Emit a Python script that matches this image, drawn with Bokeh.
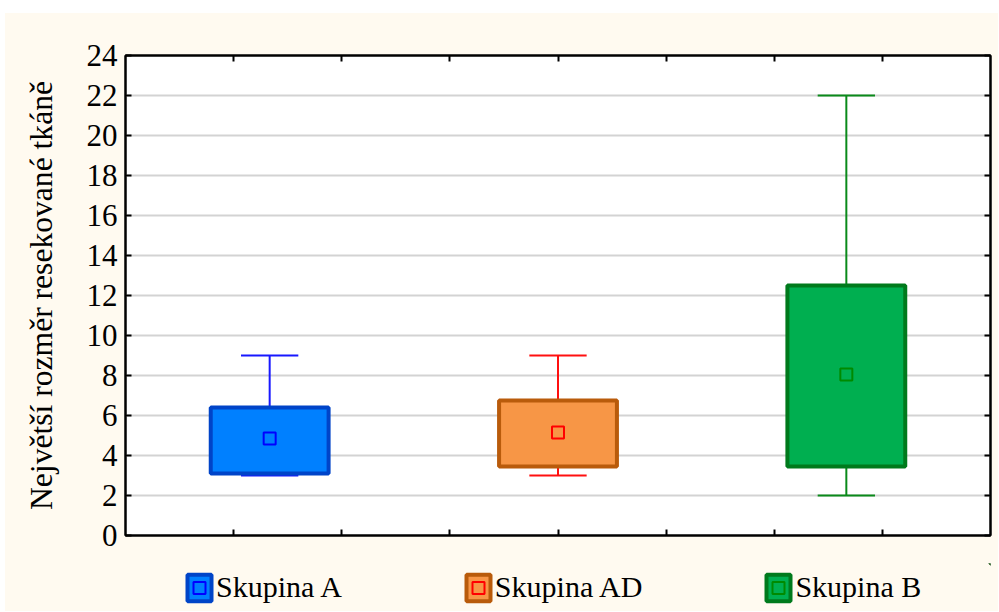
from bokeh.plotting import figure
from bokeh.layouts import column
from bokeh.models import Range1d, FixedTicker, LinearAxis, Legend, LegendItem, ColumnDataSource
from bokeh.embed import file_html
from bokeh.resources import INLINE

# ---- data ----
groups = ["Skupina A", "Skupina AD", "Skupina B"]
q1 = [3.1, 3.45, 3.45]
q3 = [6.4, 6.75, 12.5]
mid = [4.85, 5.15, 8.05]
lo = [3.0, 3.0, 2.0]
hi = [9.0, 9.0, 22.0]
y_ticks = [0, 2, 4, 6, 8, 10, 12, 14, 16, 18, 20, 22, 24]
x_ticks = [1, 2, 3, 4, 5, 6, 7]

# ---- styles ----
fill_colors = ["#0080FF", "#F79646", "#00AF50"]
edge_colors = ["#0044C8", "#B95B0B", "#007A1C"]
whisker_colors = ["#1818FF", "#FF1010", "#0A8A1A"]
marker_colors = ["#0000FF", "#FF0000", "#008A00"]
CREAM = "#FFFAF0"

X_MAX = 8.0
n = len(groups)
slot = X_MAX / n
centers = [(i + 0.5) * slot for i in range(n)]
BOX_W = 1.09
CAP_HALF = 0.265

src = ColumnDataSource(dict(
    x=centers, q1=q1, q3=q3, mid=mid, lo=lo, hi=hi,
    cap_l=[c - CAP_HALF for c in centers], cap_r=[c + CAP_HALF for c in centers],
    fill=fill_colors, edge=edge_colors, wcol=whisker_colors, mcol=marker_colors,
    label=groups,
))

FONT = "Liberation Serif"
BL, BR = 120, 8
W = 993

p = figure(width=W, height=550, x_range=Range1d(0, X_MAX), y_range=Range1d(0, 24),
           output_backend="svg", toolbar_location=None,
           min_border_left=BL, min_border_top=42, min_border_right=BR, min_border_bottom=28,
           background_fill_color="white", border_fill_color=CREAM,
           outline_line_color="black", outline_line_width=2)

# axes
def style_axis(ax, labels=True):
    ax.axis_line_color = "black"
    ax.axis_line_width = 2
    ax.major_tick_line_color = "black"
    ax.major_tick_line_width = 2
    ax.major_tick_in = 6
    ax.major_tick_out = 0
    ax.minor_tick_line_color = None
    if labels:
        ax.major_label_text_font = FONT
        ax.major_label_text_font_size = "31px"
        ax.major_label_text_color = "black"
        ax.major_label_standoff = 8
    else:
        ax.major_label_text_font_size = "1px"
        ax.major_label_text_color = None
        ax.major_label_standoff = 0

yax = p.yaxis[0]
yax.ticker = FixedTicker(ticks=y_ticks)
style_axis(yax)
yax.axis_label = "Největší rozměr resekované tkáně"
yax.axis_label_text_font = FONT
yax.axis_label_text_font_size = "31.6px"
yax.axis_label_text_font_style = "normal"
yax.axis_label_text_color = "black"
yax.axis_label_standoff = 25

xax = p.xaxis[0]
xax.ticker = FixedTicker(ticks=x_ticks)
style_axis(xax, labels=False)

rax = LinearAxis(ticker=FixedTicker(ticks=y_ticks))
style_axis(rax, labels=False)
p.add_layout(rax, "right")
tax = LinearAxis(ticker=FixedTicker(ticks=x_ticks))
style_axis(tax, labels=False)
p.add_layout(tax, "above")

p.xgrid.visible = False
p.ygrid.ticker = FixedTicker(ticks=y_ticks)
p.ygrid.grid_line_color = "#D3D3D3"
p.ygrid.grid_line_width = 2

# whiskers
p.segment(x0="x", y0="q3", x1="x", y1="hi", source=src, line_color="wcol", line_width=2)
p.segment(x0="x", y0="q1", x1="x", y1="lo", source=src, line_color="wcol", line_width=2)
p.segment(x0="cap_l", y0="hi", x1="cap_r", y1="hi", source=src, line_color="wcol", line_width=2)
p.segment(x0="cap_l", y0="lo", x1="cap_r", y1="lo", source=src, line_color="wcol", line_width=2)

# boxes and mean markers
box_kw = dict(x="x", width=BOX_W, bottom="q1", top="q3", source=src,
              fill_color="fill", line_color="edge", line_width=4)
mark_kw = dict(x="x", y="mid", source=src, marker="square", size=12,
               fill_color="fill", line_color="mcol", line_width=2)
p.vbar(**box_kw)
p.scatter(**mark_kw)

# ---- legend strip (separate figure below the chart; its view range holds no data,
#      so only the legend swatches show) ----
leg = figure(width=W, height=48, x_range=Range1d(-20, -10), y_range=Range1d(-50, -40),
             output_backend="svg", toolbar_location=None,
             x_axis_location=None, y_axis_location=None,
             min_border_left=BL, min_border_right=BR, min_border_top=0, min_border_bottom=0,
             background_fill_color=CREAM, border_fill_color=CREAM, outline_line_color=None)
leg.grid.visible = False
lb = leg.vbar(**box_kw)
lm = leg.scatter(**mark_kw)

items = [LegendItem(label=groups[i], renderers=[lb, lm], index=i) for i in range(n)]
legend = Legend(items=items, orientation="horizontal", location=(59, 7),
                spacing=121, glyph_width=30, glyph_height=33, label_standoff=2,
                label_text_font=FONT, label_text_font_size="30px", label_text_color="black",
                background_fill_alpha=0, border_line_alpha=0, padding=0, margin=0)
leg.add_layout(legend, "center")

layout = column(p, leg, spacing=0, margin=(13, 0, 0, 5),
                styles={"background-color": CREAM})
open("out.html", "w").write(file_html(layout, INLINE))
